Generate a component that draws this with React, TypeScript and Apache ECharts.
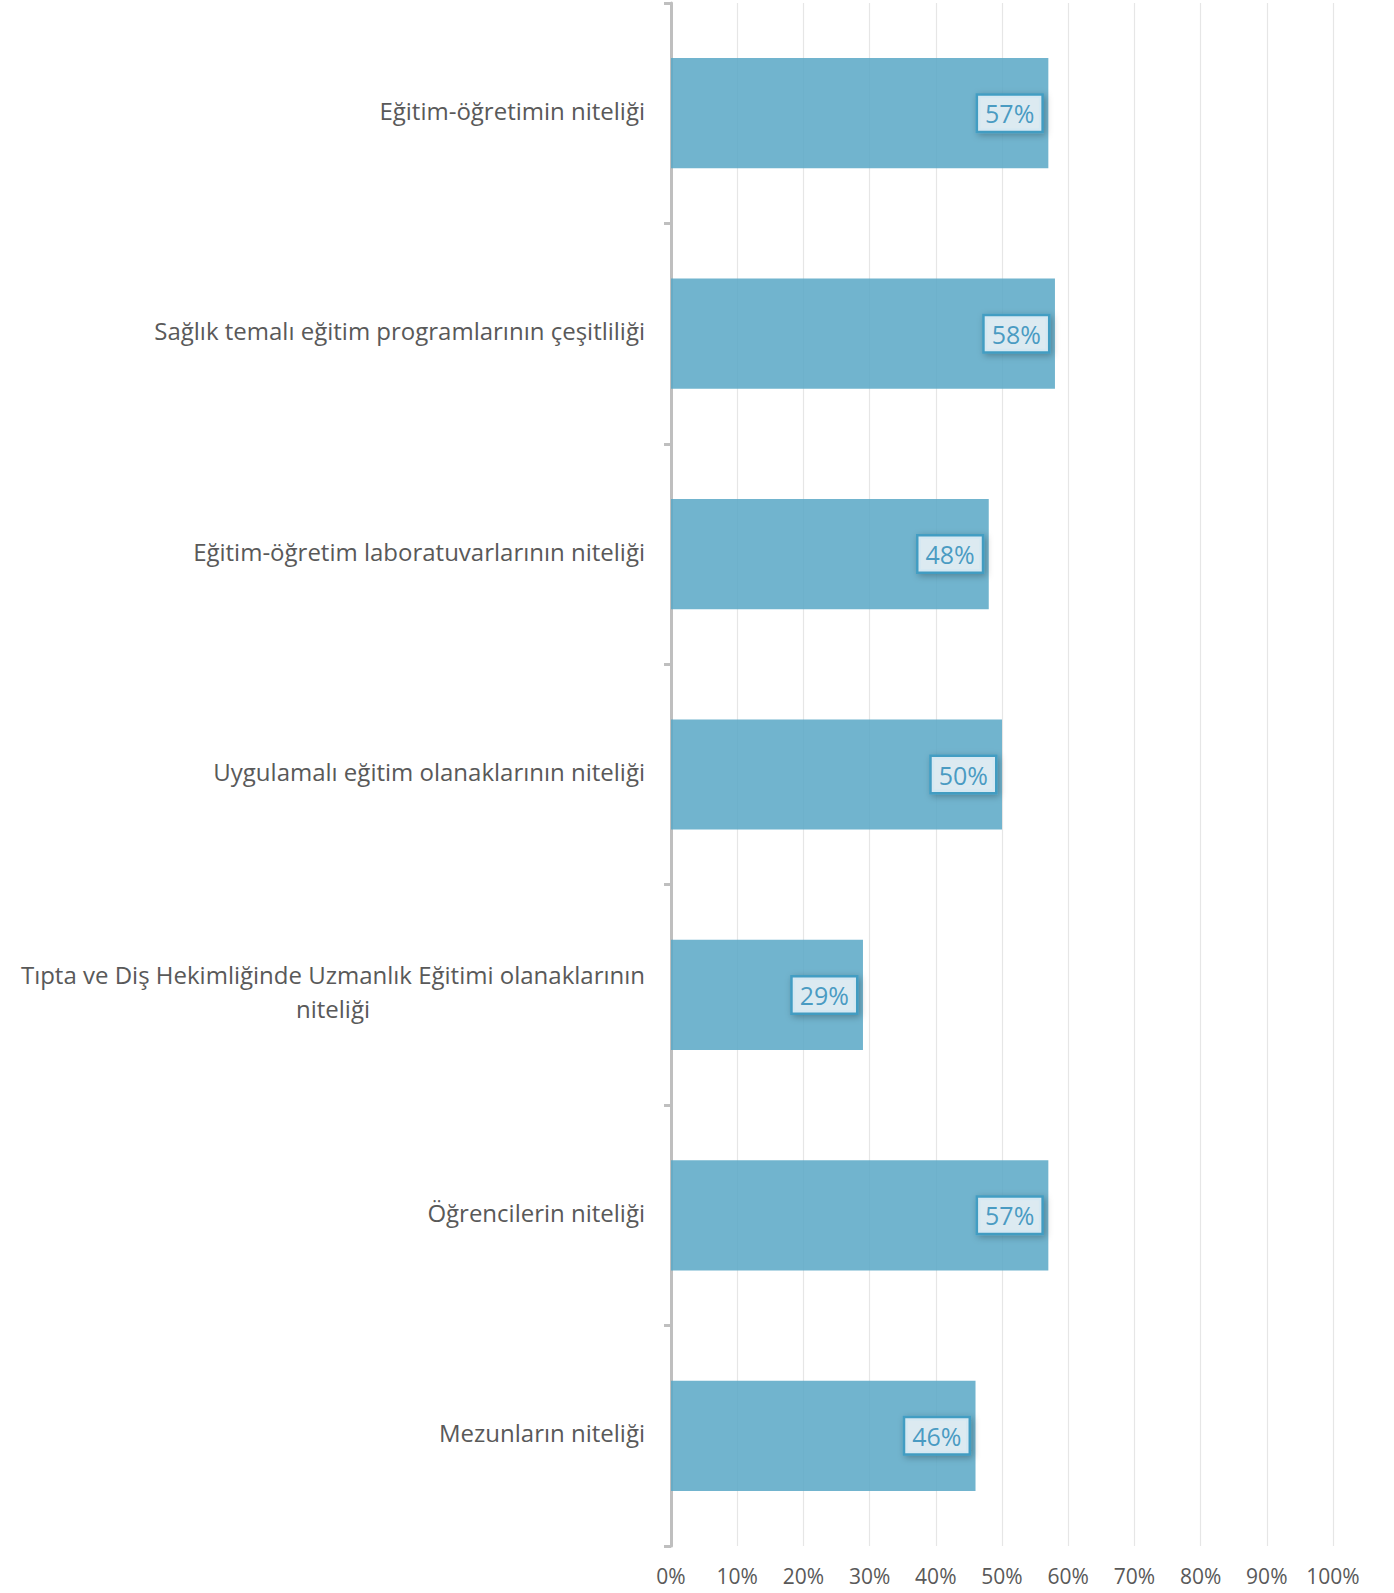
import React, { useEffect, useRef } from "react";
import * as echarts from "echarts";

const categories = [
  "Eğitim-öğretimin niteliği",
  "Sağlık temalı eğitim programlarının çeşitliliği",
  "Eğitim-öğretim laboratuvarlarının niteliği",
  "Uygulamalı eğitim olanaklarının niteliği",
  "Tıpta ve Diş Hekimliğinde Uzmanlık Eğitimi olanaklarının\nniteliği",
  "Öğrencilerin niteliği",
  "Mezunların niteliği",
];
const values = [57, 58, 48, 50, 29, 57, 46];
const xTicks = [0, 10, 20, 30, 40, 50, 60, 70, 80, 90, 100];

export default function App() {
  const ref = useRef<HTMLDivElement>(null);
  useEffect(() => {
    if (!ref.current) return;
    const chart = echarts.init(ref.current, null, { renderer: "svg" });
    chart.setOption({
      animation: false,
      grid: { left: 671, right: 61, top: 3, bottom: 47, containLabel: false },
      xAxis: {
        type: "value",
        min: 0,
        max: 100,
        interval: 10,
        axisLine: { show: false },
        axisTick: { show: false },
        splitLine: { show: true, lineStyle: { color: "#e6e6e6", width: 1.2 } },
        axisLabel: {
          color: "#595959",
          fontSize: 21,
          fontFamily: "Open Sans",
          margin: 19,
          formatter: (v: number) => (xTicks.includes(v) ? v + "%" : ""),
        },
      },
      yAxis: {
        type: "category",
        data: categories,
        inverse: true,
        axisLine: { show: true, lineStyle: { color: "#bfbfbf", width: 3 } },
        axisTick: { show: true, length: 7, lineStyle: { color: "#bfbfbf", width: 3 } },
        axisLabel: {
          color: "#595959",
          fontSize: 24,
          fontFamily: "Open Sans",
          margin: 26,
          lineHeight: 34,
          padding: [0, 0, 6, 0],
          formatter: (v: string) =>
            v
              .split("\n")
              .map((l) => "{a|" + l + "}")
              .join("\n"),
          rich: {
            a: {
              color: "#595959",
              fontSize: 24,
              fontFamily: "Open Sans",
              lineHeight: 34,
              align: "center",
            },
          },
        },
      },
      series: [
        {
          type: "bar",
          data: values,
          barCategoryGap: "50%",
          itemStyle: { color: "#5aa8c6", opacity: 0.86 },
          label: {
            show: true,
            position: "insideRight",
            distance: 7,
            formatter: (p: any) => p.value + "%",
            color: "#2f8dba",
            fontSize: 25,
            fontFamily: "Open Sans",
            backgroundColor: "#eef5f9",
            borderColor: "#3c9bc2",
            borderWidth: 2.5,
            padding: [6, 7, 4, 7],
            shadowColor: "rgba(0,0,0,0.3)",
            shadowBlur: 7,
            shadowOffsetX: 2,
            shadowOffsetY: 2,
          },
        },
      ],
    });
    return () => chart.dispose();
  }, []);
  return <div ref={ref} style={{ width: 1394, height: 1593, position: "absolute", left: 0, top: 0, background: "#fff" }} />;
}
